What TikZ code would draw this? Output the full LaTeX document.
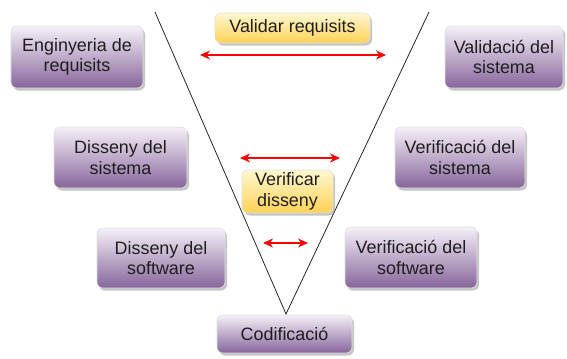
\documentclass[tikz,border=0pt]{standalone}
\usepackage{fontspec}
\setmainfont{Liberation Sans}
\usetikzlibrary{shadows,arrows.meta}
\definecolor{pTop}{HTML}{F5F0F8}
\definecolor{pMid}{HTML}{BBA3CB}
\definecolor{pBot}{HTML}{87659B}
\definecolor{yTop}{HTML}{FFF7D0}
\definecolor{yMid}{HTML}{FFE68E}
\definecolor{yBot}{HTML}{FFD255}
\definecolor{txt}{HTML}{1E1E1E}
\tikzset{
  box/.style={rounded corners=6bp, draw=black!12, line width=0.6bp,
    align=center, text=txt, inner sep=0pt,
    font=\fontsize{18}{20.5}\selectfont,
    drop shadow={shadow xshift=2bp, shadow yshift=-2.5bp, fill=black!45, opacity=0.5}},
  phase/.style={box, top color=pTop, middle color=pMid, bottom color=pBot},
  check/.style={box, top color=yTop, middle color=yMid, bottom color=yBot},
  vline/.style={line width=0.8bp, draw=black!85},
  link/.style={red, line width=1.3bp, {Stealth[length=10bp,width=9bp]}-{Stealth[length=10bp,width=9bp]}}
}
\begin{document}
\begin{tikzpicture}[x=1bp,y=-1bp]
\useasboundingbox (0,0) rectangle (567,358);

% left branch of the V
\node[phase, minimum width=132bp, minimum height=62bp] (eng) at (77,57) {Enginyeria de\\requisits};
\node[phase, minimum width=133bp, minimum height=61bp] (dissis) at (120.5,157.5) {Disseny del\\sistema};
\node[phase, minimum width=128bp, minimum height=60bp] (dissw) at (161,258) {Disseny del\\software};

% right branch of the V
\node[phase, minimum width=118bp, minimum height=62bp] (valsis) at (504,57) {Validació del\\sistema};
\node[phase, minimum width=130bp, minimum height=61bp] (versis) at (460,157.5) {Verificació del\\sistema};
\node[phase, minimum width=132bp, minimum height=61bp] (versw) at (411,257.5) {Verificació del\\software};

% bottom of the V
\node[phase, minimum width=135bp, minimum height=38bp] (cod) at (284.5,334) {Codificació};

% the V itself
\coordinate (vl) at (155,12);
\coordinate (vr) at (429,12);
\coordinate (apex) at (286,314);
\draw[vline] (vl) -- (apex) -- (vr);

% checks between the branches
\node[check, minimum width=155bp, minimum height=30bp] (valreq) at (292.5,28) {Validar requisits};
\node[check, minimum width=91bp, minimum height=43bp] (verdis) at (287.5,191.5) {Verificar\\disseny};

\coordinate (a1l) at (200,55);  \coordinate (a1r) at (386,55);
\coordinate (a2l) at (240,158); \coordinate (a2r) at (340,158);
\coordinate (a3l) at (263,243); \coordinate (a3r) at (308,243);
\draw[link] (a1l) -- (a1r);
\draw[link] (a2l) -- (a2r);
\draw[link] (a3l) -- (a3r);
\end{tikzpicture}
\end{document}
